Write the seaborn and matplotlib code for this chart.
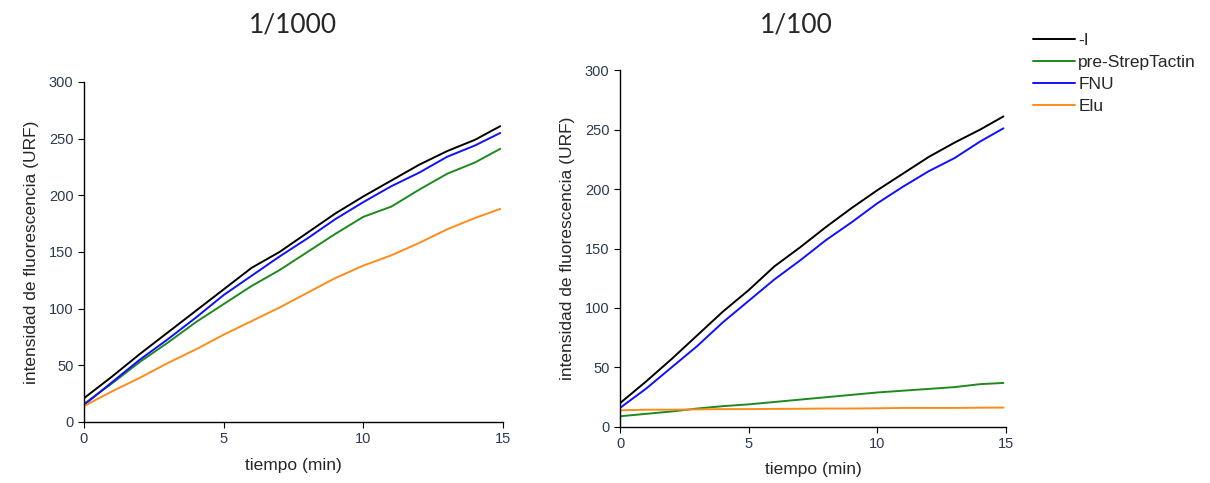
import matplotlib
matplotlib.use("Agg")
import matplotlib.pyplot as plt
import seaborn as sns
import pandas as pd

# tiempo (min)
tiempo = [0, 1, 2, 3, 4, 5, 6, 7, 8, 9, 10, 11, 12, 13, 14, 14.9]

# 1/1000
d1000_I = [21, 40, 60, 79, 98, 117, 136, 150, 167, 184, 199, 213, 227, 239, 249, 261]
d1000_pre = [16, 34, 53, 70, 88, 104, 120, 134, 150, 166, 181, 190, 205, 219, 229, 241]
d1000_FNU = [15, 35, 55, 73, 92, 112, 129, 146, 162, 179, 194, 208, 220, 234, 244, 255]
d1000_Elu = [14, 27, 39, 52, 64, 77, 89, 101, 114, 127, 138, 147, 158, 170, 180, 188]

# 1/100
d100_I = [20, 38, 57, 77, 97, 115, 135, 151, 168, 184, 199, 213, 227, 239, 250, 261]
d100_pre = [9, 11, 13, 15.5, 17.5, 19, 21, 23, 25, 27, 29, 30.5, 32, 33.5, 36, 37]
d100_FNU = [16, 32, 50, 68, 88, 106, 124, 140, 157, 172, 188, 202, 215, 226, 240, 251]
d100_Elu = [14, 14.5, 14.5, 14.8, 15, 15, 15.2, 15.3, 15.5, 15.5, 15.7, 16, 16, 16, 16.2, 16.3]

muestras = ["-I", "pre-StrepTactin", "FNU", "Elu"]
colores = {"-I": "black", "pre-StrepTactin": "#1e8a1e", "FNU": "#1010ff", "Elu": "#ff8c1a"}


def tabla(series):
    filas = []
    for nombre, valores in zip(muestras, series):
        for t, v in zip(tiempo, valores):
            filas.append({"tiempo": t, "valor": v, "muestra": nombre})
    return pd.DataFrame(filas)


df1000 = tabla([d1000_I, d1000_pre, d1000_FNU, d1000_Elu])
df100 = tabla([d100_I, d100_pre, d100_FNU, d100_Elu])

sns.set_style("ticks")
plt.rcParams["font.family"] = ["Liberation Sans", "DejaVu Sans"]

fig = plt.figure(figsize=(12.1, 4.83), dpi=100)
ax1 = fig.add_axes([0.0694, 0.1263, 0.3463, 0.704])
ax2 = fig.add_axes([0.5124, 0.116, 0.319, 0.739])

for ax, df in [(ax1, df1000), (ax2, df100)]:
    sns.lineplot(data=df, x="tiempo", y="valor", hue="muestra", hue_order=muestras,
                 palette=colores, linewidth=1.4, ax=ax, legend=(ax is ax2))
    ax.set_xlim(0, 15)
    ax.set_ylim(0, 300)
    ax.set_xticks([0, 5, 10, 15])
    ax.set_yticks(range(0, 301, 50))
    ax.tick_params(labelsize=10.5, length=4, color="black", labelcolor="#2b3a4f")
    ax.set_xlabel("tiempo (min)", fontsize=12.5, labelpad=8)
    ax.set_ylabel("intensidad de fluorescencia (URF)", fontsize=12.5, labelpad=7)
    sns.despine(ax=ax)
    for s in ["left", "bottom"]:
        ax.spines[s].set_color("black")
        ax.spines[s].set_linewidth(1.0)

handles, labels = ax2.get_legend_handles_labels()
ax2.get_legend().remove()
fig.legend(handles, labels, loc="upper left", bbox_to_anchor=(1033 / 1210, 1 - 33 / 483),
           frameon=False, fontsize=12.5, handlelength=2.4, handletextpad=0.2,
           labelspacing=0.4, borderaxespad=0, borderpad=0)

fig.text(293 / 1210, 1 - 25 / 483, "1/1000", ha="center", va="center", fontsize=19,
         family=["Lato", "DejaVu Sans"])
fig.text(796 / 1210, 1 - 25 / 483, "1/100", ha="center", va="center", fontsize=19,
         family=["Lato", "DejaVu Sans"])

fig.savefig("out.png", dpi=100)
